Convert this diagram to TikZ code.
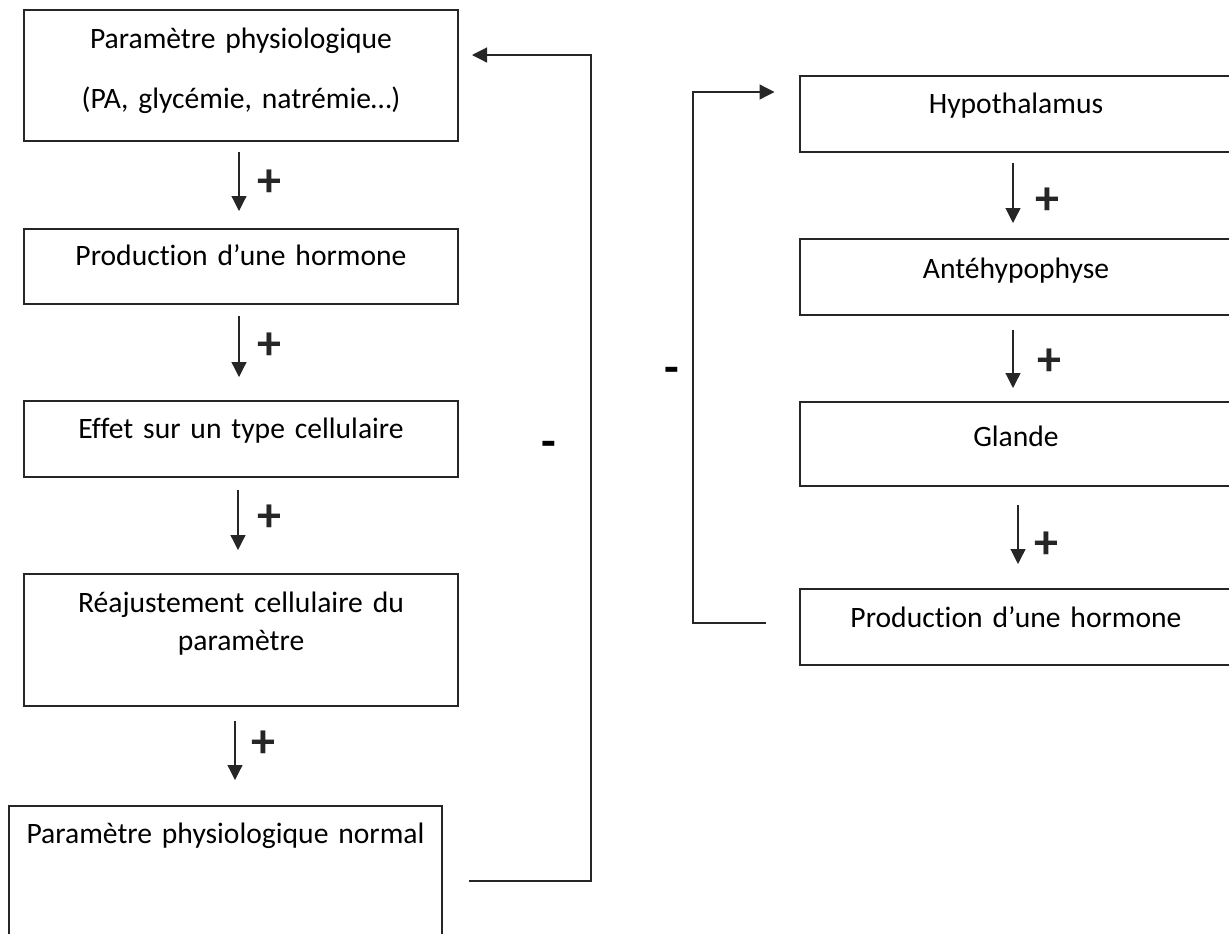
\documentclass[tikz,border=0pt]{standalone}
\usepackage{fontspec}
\setmainfont{Carlito}[Ligatures=NoCommon]
\usetikzlibrary{arrows.meta, calc}

\begin{document}
\begin{tikzpicture}[x=0.5pt, y=-0.5pt,
    box/.style={rectangle, draw=black!85, line width=0.6pt, anchor=north west, inner sep=0pt, outer sep=0pt, align=center, font=\fontsize{14.8}{18}\selectfont},
    arr/.style={-{Triangle[length=7.5pt, width=7.5pt]}, line width=0.6pt, color=black!85},
    sign/.style={font=\bfseries\fontsize{24}{24}\selectfont, inner sep=0pt}
]

\useasboundingbox (0,0) rectangle (1229,933);
\clip (0,0) rectangle (1229,933);

% Left chain
\node[box, text width=217pt, text height=19pt, text depth=46.5pt] (param) at (24,10) {Paramètre physiologique\\[12pt](PA, glycémie, natrémie…)};
\node[box, text width=217pt, text height=18pt, text depth=19.5pt] (prodL) at (24,229) {Production d’une hormone};
\node[box, text width=217pt, text height=18.5pt, text depth=19.5pt] (effet) at (24,401) {Effet sur un type cellulaire};
\node[box, text width=217pt, text height=19pt, text depth=47pt] (reaj) at (24,574) {Réajustement cellulaire du\\[1pt]paramètre};
\node[box, text width=216.5pt, text height=18.5pt, text depth=78.5pt] (normal) at (9,806) {Paramètre physiologique normal};

% Right chain
\node[box, text width=216pt, text height=18.5pt, text depth=19.5pt] (hypo) at (800,76) {Hypothalamus};
\node[box, text width=216pt, text height=19.5pt, text depth=18.5pt] (ante) at (800,239) {Antéhypophyse};
\node[box, text width=216pt, text height=22pt, text depth=20pt] (glande) at (800,402) {Glande};
\node[box, text width=216pt, text height=19pt, text depth=19pt] (prodR) at (800,589) {Production d’une hormone};

% Positive arrows, left
\draw[arr, shorten <=5.5pt, shorten >=9pt] ([xshift=-1pt]param.south) -- ([xshift=-1pt]prodL.north) node[sign, pos=0.48, xshift=15pt] (p1) {+};
\draw[arr, shorten <=6pt, shorten >=12pt] ([xshift=-1pt]prodL.south) -- ([xshift=-1pt]effet.north) node[sign, pos=0.44, xshift=15pt] (p2) {+};
\draw[arr, shorten <=6.5pt, shorten >=12pt] ([xshift=-1.5pt]effet.south) -- ([xshift=-1.5pt]reaj.north) node[sign, pos=0.42, xshift=15.5pt] (p3) {+};
\draw[arr, shorten <=7.5pt, shorten >=13pt] ([xshift=-3pt]reaj.south) -- ([xshift=-3pt]reaj.south |- normal.north) node[sign, pos=0.38, xshift=14pt] (p4) {+};

% Positive arrows, right
\draw[arr, shorten <=5.5pt, shorten >=8pt] ([xshift=-1.5pt]hypo.south) -- ([xshift=-1.5pt]ante.north) node[sign, pos=0.57, xshift=17pt] (p5) {+};
\draw[arr, shorten <=7.5pt, shorten >=7pt] ([xshift=-1.5pt]ante.south) -- ([xshift=-1.5pt]glande.north) node[sign, pos=0.54, xshift=18pt] (p6) {+};
\draw[arr, shorten <=9.5pt, shorten >=12.5pt] ([xshift=1pt]glande.south) -- ([xshift=1pt]prodR.north) node[sign, pos=0.57, xshift=14pt] (p7) {+};

% Feedback loops
\coordinate (fbL) at (469,881);
\coordinate (fbLtop) at (591,55);
\draw[arr, shorten >=7pt] (fbL) -| (fbLtop) -- (param.east |- fbLtop);
\node[sign] (minusL) at (549,449) {-};

\coordinate (fbR) at (766,623);
\coordinate (fbRtop) at (693,92);
\draw[arr, shorten >=12.75pt] (fbR) -| (fbRtop) -- (hypo.west |- fbRtop);
\node[sign] (minusR) at (672,375) {-};

\end{tikzpicture}
\end{document}
